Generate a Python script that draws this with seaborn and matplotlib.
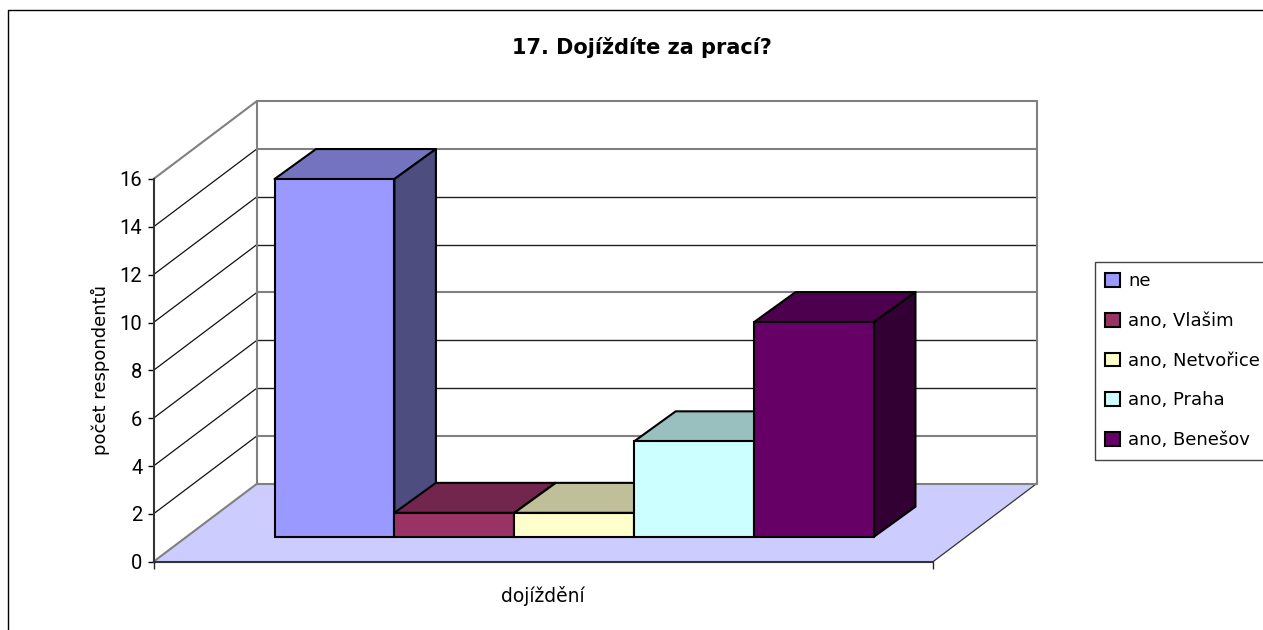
import matplotlib
matplotlib.use('Agg')
import matplotlib.pyplot as plt
import seaborn as sns
import pandas as pd
from matplotlib.lines import Line2D
from matplotlib.patches import Polygon

# Data
title = '17. Dojíždíte za prací?'
x_label = 'dojíždění'
y_label = 'počet respondentů'
group = 'dojíždění'
categories = ['ne', 'ano, Vlašim', 'ano, Netvořice', 'ano, Praha', 'ano, Benešov']
counts = [15, 1, 1, 4, 9]
colors = ['#9999FF', '#993366', '#FFFFCC', '#CCFFFF', '#660066']
y_ticks = [0, 2, 4, 6, 8, 10, 12, 14, 16]

W, H = 1263, 630

sns.set_style('ticks')
plt.rcParams['font.family'] = ['DejaVu Sans']
plt.rcParams['axes.edgecolor'] = '#333333'
plt.rcParams['text.color'] = 'black'
plt.rcParams['axes.labelcolor'] = 'black'

fig = plt.figure(figsize=(W / 100, H / 100), dpi=100)

# Front plane of the chart box, in pixels
left, right, top, bottom = 153.5, 933, 179, 561.7
ax = fig.add_axes([left / W, 1 - bottom / H, (right - left) / W, (bottom - top) / H])
ax.set_xlim(-0.5, 0.5)
ax.set_ylim(0, 16)
ax.patch.set_alpha(0)

# Depth of the box in data units
depth_x = 103.5 / (right - left)
depth_y = 78 / ((bottom - top) / 16)

x0, x1 = ax.get_xlim()
y0, y1 = ax.get_ylim()

# Floor
ax.add_patch(Polygon([(x0, y0), (x1, y0), (x1 + depth_x, y0 + depth_y), (x0 + depth_x, y0 + depth_y)],
                     facecolor='#CCCCFF', edgecolor='none', clip_on=False, zorder=1))
ax.plot([x1, x1 + depth_x], [y0, y0 + depth_y], color='#333333', lw=0.9, clip_on=False, zorder=2)

# Side wall and back wall lines
for t in y_ticks:
    edge = t in (0, 16)
    soft = edge or t % 6 == 2
    ax.plot([x0, x0 + depth_x], [t, t + depth_y], color='#808080' if edge else '#111111',
            lw=1.5 if edge else 0.9, clip_on=False, zorder=2)
    ax.plot([x0 + depth_x, x1 + depth_x], [t + depth_y, t + depth_y], color='#808080' if soft else '#222222',
            lw=1.5 if soft else 1.0, clip_on=False, zorder=2)
for xv in (x0 + depth_x, x1 + depth_x):
    ax.plot([xv, xv], [y0 + depth_y, y1 + depth_y], color='#808080', lw=1.5, clip_on=False, zorder=2)

ax.set_xticks([x0, x1])
ax.set_xticklabels([])
ax.set_yticks(y_ticks)
ax.tick_params(axis='y', length=4, width=1, pad=4, colors='black')
ax.tick_params(axis='x', length=5, width=1)
for lab in ax.get_yticklabels():
    lab.set_family(['Roboto', 'DejaVu Sans'])
    lab.set_fontsize(14.5)
ax.set_xlabel(x_label, fontsize=13.5, labelpad=9)
ax.set_ylabel(y_label, fontsize=13, labelpad=7)
sns.despine(ax=ax)
for s in ('left', 'bottom'):
    ax.spines[s].set_linewidth(1.5)
    ax.spines[s].set_zorder(5)

# Bars stand part way into the box, so they get their own shifted axes
bar_left = 184.5
bar_bottom = 536.7
bar_height = 381.5
bar_ax = fig.add_axes([bar_left / W, 1 - bar_bottom / H, (right - left) / W, bar_height / H])

df = pd.DataFrame({'group': [group] * len(categories), 'category': categories, 'count': counts})
sns.barplot(data=df, x='group', y='count', hue='category', hue_order=categories, palette=colors,
            width=0.769, gap=0, saturation=1, errorbar=None, edgecolor='black', linewidth=1.5,
            ax=bar_ax)
bar_ax.set_xlim(-0.5, 0.5)
bar_ax.set_ylim(0, 16)
bar_ax.set_axis_off()

dx = 41.5 / (right - left)
dy = 30 / (bar_height / 16)
for i, container in enumerate(bar_ax.containers):
    bar = container[0]
    xa, xb = bar.get_x(), bar.get_x() + bar.get_width()
    h = bar.get_height()
    r, g, b, _ = bar.get_facecolor()
    z = 3 + i * 3
    top_face = Polygon([(xa, h), (xb, h), (xb + dx, h + dy), (xa + dx, h + dy)],
                       facecolor=(r * 0.75, g * 0.75, b * 0.75), edgecolor='black', lw=1.5,
                       joinstyle='round', clip_on=False, zorder=z)
    side_face = Polygon([(xb, 0), (xb + dx, dy), (xb + dx, h + dy), (xb, h)],
                        facecolor=(r * 0.5, g * 0.5, b * 0.5), edgecolor='black', lw=1.5,
                        joinstyle='round', clip_on=False, zorder=z)
    bar_ax.add_patch(top_face)
    bar_ax.add_patch(side_face)
    bar.set_zorder(z + 1)
    bar.set_clip_on(False)

sns.move_legend(bar_ax, 'upper left', bbox_to_anchor=(1095 / W, 1 - 262 / H),
                bbox_transform=fig.transFigure, title=None, frameon=True, fancybox=False,
                framealpha=1, edgecolor='#444444', fontsize=13, borderaxespad=0,
                handlelength=0.8, handleheight=0.8, handletextpad=0.45, labelspacing=1.2,
                borderpad=0.58)

fig.text(642 / W, 1 - 48 / H, title, ha='center', va='center', fontsize=15, fontweight='bold')

# Outer chart border, cut off by the picture on the right and at the bottom
fig.add_artist(Line2D([8 / W, 8 / W, 1], [0, 1 - 9.5 / H, 1 - 9.5 / H], color='black', lw=1))

fig.savefig('out.png', dpi=100)
